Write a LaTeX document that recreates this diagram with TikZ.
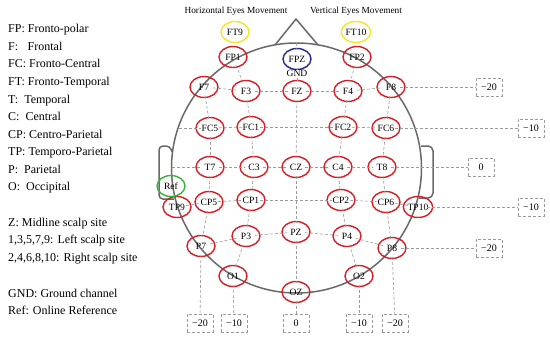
\documentclass[tikz,border=0pt]{standalone}
\usepackage{fontspec}
\setmainfont{Liberation Serif}
\usepackage{xcolor}
\usepackage{tikz}
\usetikzlibrary{shapes.geometric}
\definecolor{ered}{RGB}{212,32,40}
\definecolor{eyel}{RGB}{244,228,40}
\definecolor{eblu}{RGB}{40,40,150}
\definecolor{egrn}{RGB}{60,180,60}
\definecolor{headgray}{RGB}{105,105,105}
\definecolor{dashgray}{RGB}{155,155,155}
\tikzset{
  el/.style={ellipse,draw=ered,line width=1.4pt,minimum width=28pt,minimum height=21pt,inner sep=0pt,font=\fontsize{9.6}{10}\selectfont},
  hd/.style={draw=headgray,line width=1.5pt},
  gl/.style={draw=dashgray,line width=0.6pt,dash pattern=on 3pt off 2pt,shorten <=9pt,shorten >=9pt},
  gb/.style={draw=dashgray,line width=0.6pt,dash pattern=on 3pt off 2pt,shorten <=9pt},
  bx/.style={draw=dashgray,line width=0.6pt,dash pattern=on 3pt off 2pt,minimum width=26pt,minimum height=18pt,inner sep=0pt,font=\fontsize{10}{11}\selectfont},
  lg/.style={anchor=base west,inner sep=0pt,font=\fontsize{12}{14}\selectfont},
  tt/.style={anchor=base,inner sep=0pt,font=\fontsize{9.3}{11}\selectfont}
}
\newcommand{\elec}[4][ered]{\node[el,draw=#1] (#2) at (#3,#4) {#2};}

\begin{document}
\begin{tikzpicture}[x=1pt,y=-1pt]
\useasboundingbox (0,0) rectangle (550,340);
\draw[hd] (296.5,168) circle[radius=125];
\coordinate (nl) at (275,45); \coordinate (nt) at (296,19); \coordinate (nr) at (318,45);
\draw[hd,line join=round] (nl) -- (nt) -- (nr);
\draw[hd,rounded corners=4pt] (172,152) -- (170,146) -- (159,146) -- (159,199) -- (174,199);
\draw[hd,rounded corners=5pt] (421,146) -- (433,146) -- (433,198) -- (419,198);
\coordinate (top) at (296.5,43); \coordinate (fcl) at (179,128); \coordinate (tl) at (172,167);

\elec[eyel]{FT9}{235}{32} \elec[eyel]{FT10}{356}{32}
\elec{FP1}{233}{57} \elec[eblu]{FPZ}{297}{59} \elec{FP2}{357}{57}
\elec{F7}{204}{87} \elec{F3}{246}{91} \elec{FZ}{297}{91} \elec{F4}{348}{91} \elec{F8}{391}{87}
\elec{FC5}{210}{128} \elec{FC1}{251}{127} \elec{FC2}{343}{127} \elec{FC6}{386}{128}
\elec{T7}{210}{167} \elec{C3}{254}{167} \elec{CZ}{296}{167} \elec{C4}{338}{167} \elec{T8}{382}{167}
\elec{TP9}{177}{207} \elec[egrn]{Ref}{171}{186}
\elec{CP5}{209}{202} \elec{CP1}{251}{200} \elec{CP2}{341}{200} \elec{CP6}{386}{202} \elec{TP10}{418}{207}
\elec{P7}{201}{246} \elec{P3}{246}{236} \elec{PZ}{296}{232} \elec{P4}{347}{236} \elec{P8}{392}{248}
\elec{O1}{233}{276} \elec{OZ}{296}{292} \elec{O2}{359}{276}

\node[bx] (b1) at (200,323) {−20}; \node[bx] (b2) at (234,323) {−10};
\node[bx] (b3) at (296,323) {0}; \node[bx] (b4) at (359,323) {−10}; \node[bx] (b5) at (395,323) {−20};
\node[bx] (r1) at (489,87) {−20}; \node[bx] (r2) at (531,128) {−10}; \node[bx] (r3) at (481,167) {0};
\node[bx] (r4) at (531,207) {−10}; \node[bx] (r5) at (489,248) {−20};

\foreach \a/\b in {FP1/F3,F3/FC1,FC1/C3,C3/CP1,CP1/P3,P3/O1,
  F7/FC5,FC5/T7,T7/CP5,CP5/P7,FPZ/FZ,FZ/CZ,CZ/PZ,PZ/OZ,
  FP2/F4,F4/FC2,FC2/C4,C4/CP2,CP2/P4,P4/O2,F8/FC6,FC6/T8,T8/CP6,CP6/P8,
  F7/F3,F3/FZ,FZ/F4,F4/F8,FC5/FC1,FC1/FC2,FC2/FC6,T7/C3,C3/CZ,CZ/C4,C4/T8,
  TP9/CP5,CP5/CP1,CP1/CP2,CP2/CP6,CP6/TP10,P7/P3,P3/PZ,PZ/P4,P4/P8}
  \draw[gl] (\a.center) -- (\b.center);
\foreach \a/\b in {P7/b1,O1/b2,OZ/b3,O2/b4,P8/b5,F8/r1,FC6/r2,T8/r3,TP10/r4,P8/r5}
  \draw[gb] (\a.center) -- (\b);
\draw[gl,shorten <=0pt] (top) -- (FPZ.center);
\draw[gl,shorten <=0pt] (fcl) -- (FC5.center);
\draw[gl,shorten <=0pt] (tl) -- (T7.center);
\node[fill=white,inner sep=0.5pt,font=\fontsize{9.6}{10}\selectfont] (gnd) at (297,73.5) {GND};

\node[tt] (hem) at (236,13) {Horizontal Eyes Movement};
\node[tt] (vem) at (356,13) {Vertical Eyes Movement};

\node[lg] (lfp) at (8,32) {FP: Fronto-polar};
\node[lg] (lf) at (8,50) {F:\hspace{9.5pt}Frontal};
\node[lg] (lfc) at (8,67) {FC: Fronto-Central};
\node[lg] (lft) at (8,85) {FT: Fronto-Temporal};
\node[lg] (lt) at (8,103) {T:\ \ Temporal};
\node[lg] (lc) at (8,120) {C:\ \ Central};
\node[lg] (lcp) at (8,138) {CP: Centro-Parietal};
\node[lg] (ltp) at (8,155) {TP: Temporo-Parietal};
\node[lg] (lp) at (8,173) {P:\ \ Parietal};
\node[lg] (lo) at (8,190) {O:\ \ Occipital};
\node[lg] (lz) at (8,226) {Z: Midline scalp site};
\node[lg] (lodd) at (8,243) {1,3,5,7,9: Left scalp site};
\node[lg] (leven) at (8,261) {2,4,6,8,10: Right scalp site};
\node[lg] (lgnd) at (8,297) {GND: Ground channel};
\node[lg] (lref) at (8,314) {Ref: Online Reference};
\end{tikzpicture}
\end{document}
